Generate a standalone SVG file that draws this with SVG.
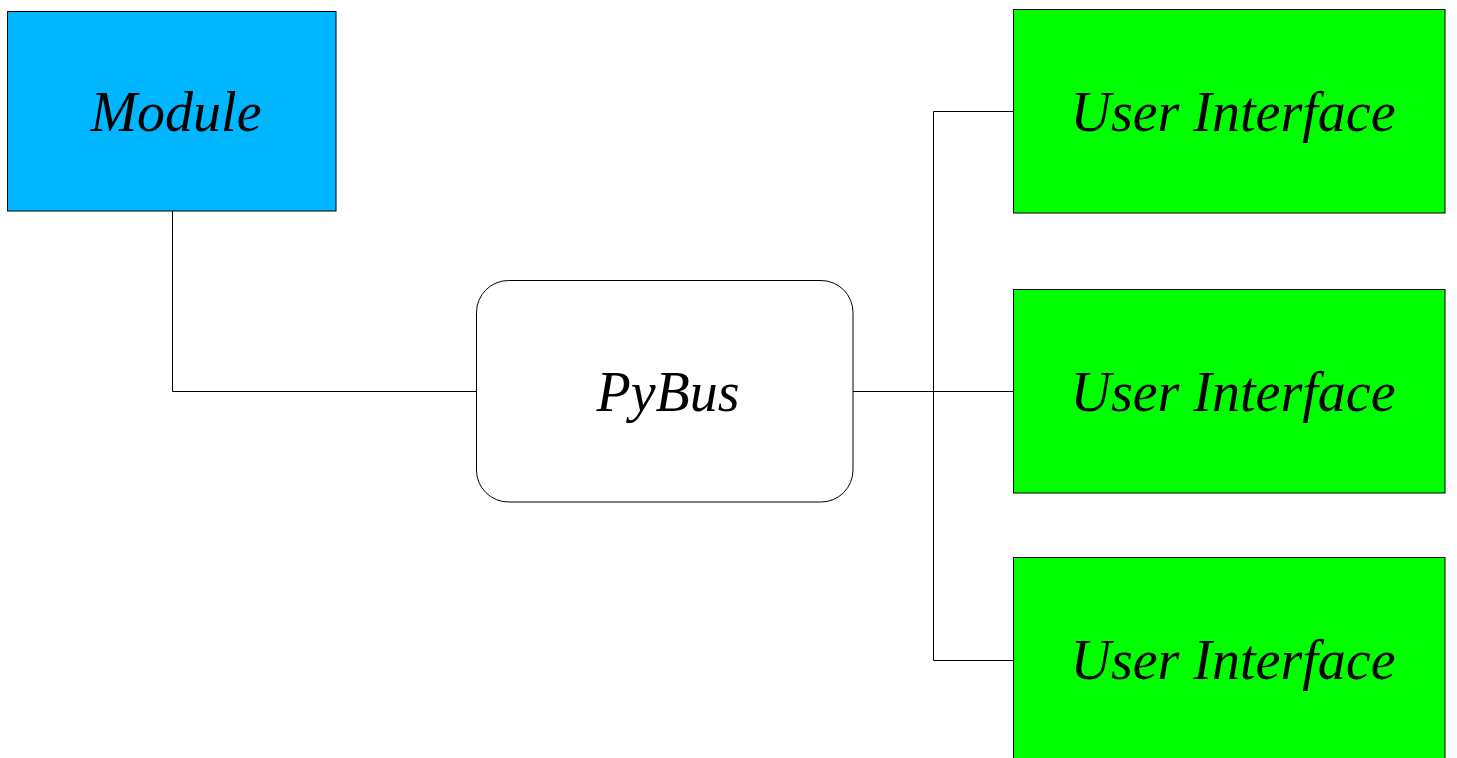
<svg xmlns="http://www.w3.org/2000/svg" width="1457" height="758" viewBox="0 0 1457 758">
<style>
.box{stroke:#000;stroke-width:1}
.lbl{font-family:"Liberation Serif",serif;font-style:italic;font-size:56px;fill:#000;text-anchor:middle}
.conn{fill:none;stroke:#000;stroke-width:1}
</style>
<rect width="1457" height="758" fill="#fff"/>
<g id="connectors">
<polyline class="conn" points="172.5,211 172.5,391.5 476,391.5"/>
<polyline class="conn" points="853,391.5 1013,391.5"/>
<polyline class="conn" points="1013,111.5 933.5,111.5 933.5,660.5 1013,660.5"/>
</g>
<g id="module">
<rect class="box" x="7.5" y="11.5" width="328.5" height="199.5" fill="#00b6ff"/>
<text class="lbl" x="176" y="131">Module</text>
</g>
<g id="pybus">
<rect class="box" x="476.5" y="280.5" width="376.5" height="221.5" rx="32" fill="#fff"/>
<text class="lbl" x="668" y="411">PyBus</text>
</g>
<g id="ui1">
<rect class="box" x="1013.5" y="9.5" width="431.5" height="203.5" fill="#00ff00"/>
<text class="lbl" x="1233" y="131">User Interface</text>
</g>
<g id="ui2">
<rect class="box" x="1013.5" y="289.5" width="431.5" height="203.5" fill="#00ff00"/>
<text class="lbl" x="1233" y="411">User Interface</text>
</g>
<g id="ui3">
<rect class="box" x="1013.5" y="557.5" width="431.5" height="203.5" fill="#00ff00"/>
<text class="lbl" x="1233" y="679">User Interface</text>
</g>
</svg>
